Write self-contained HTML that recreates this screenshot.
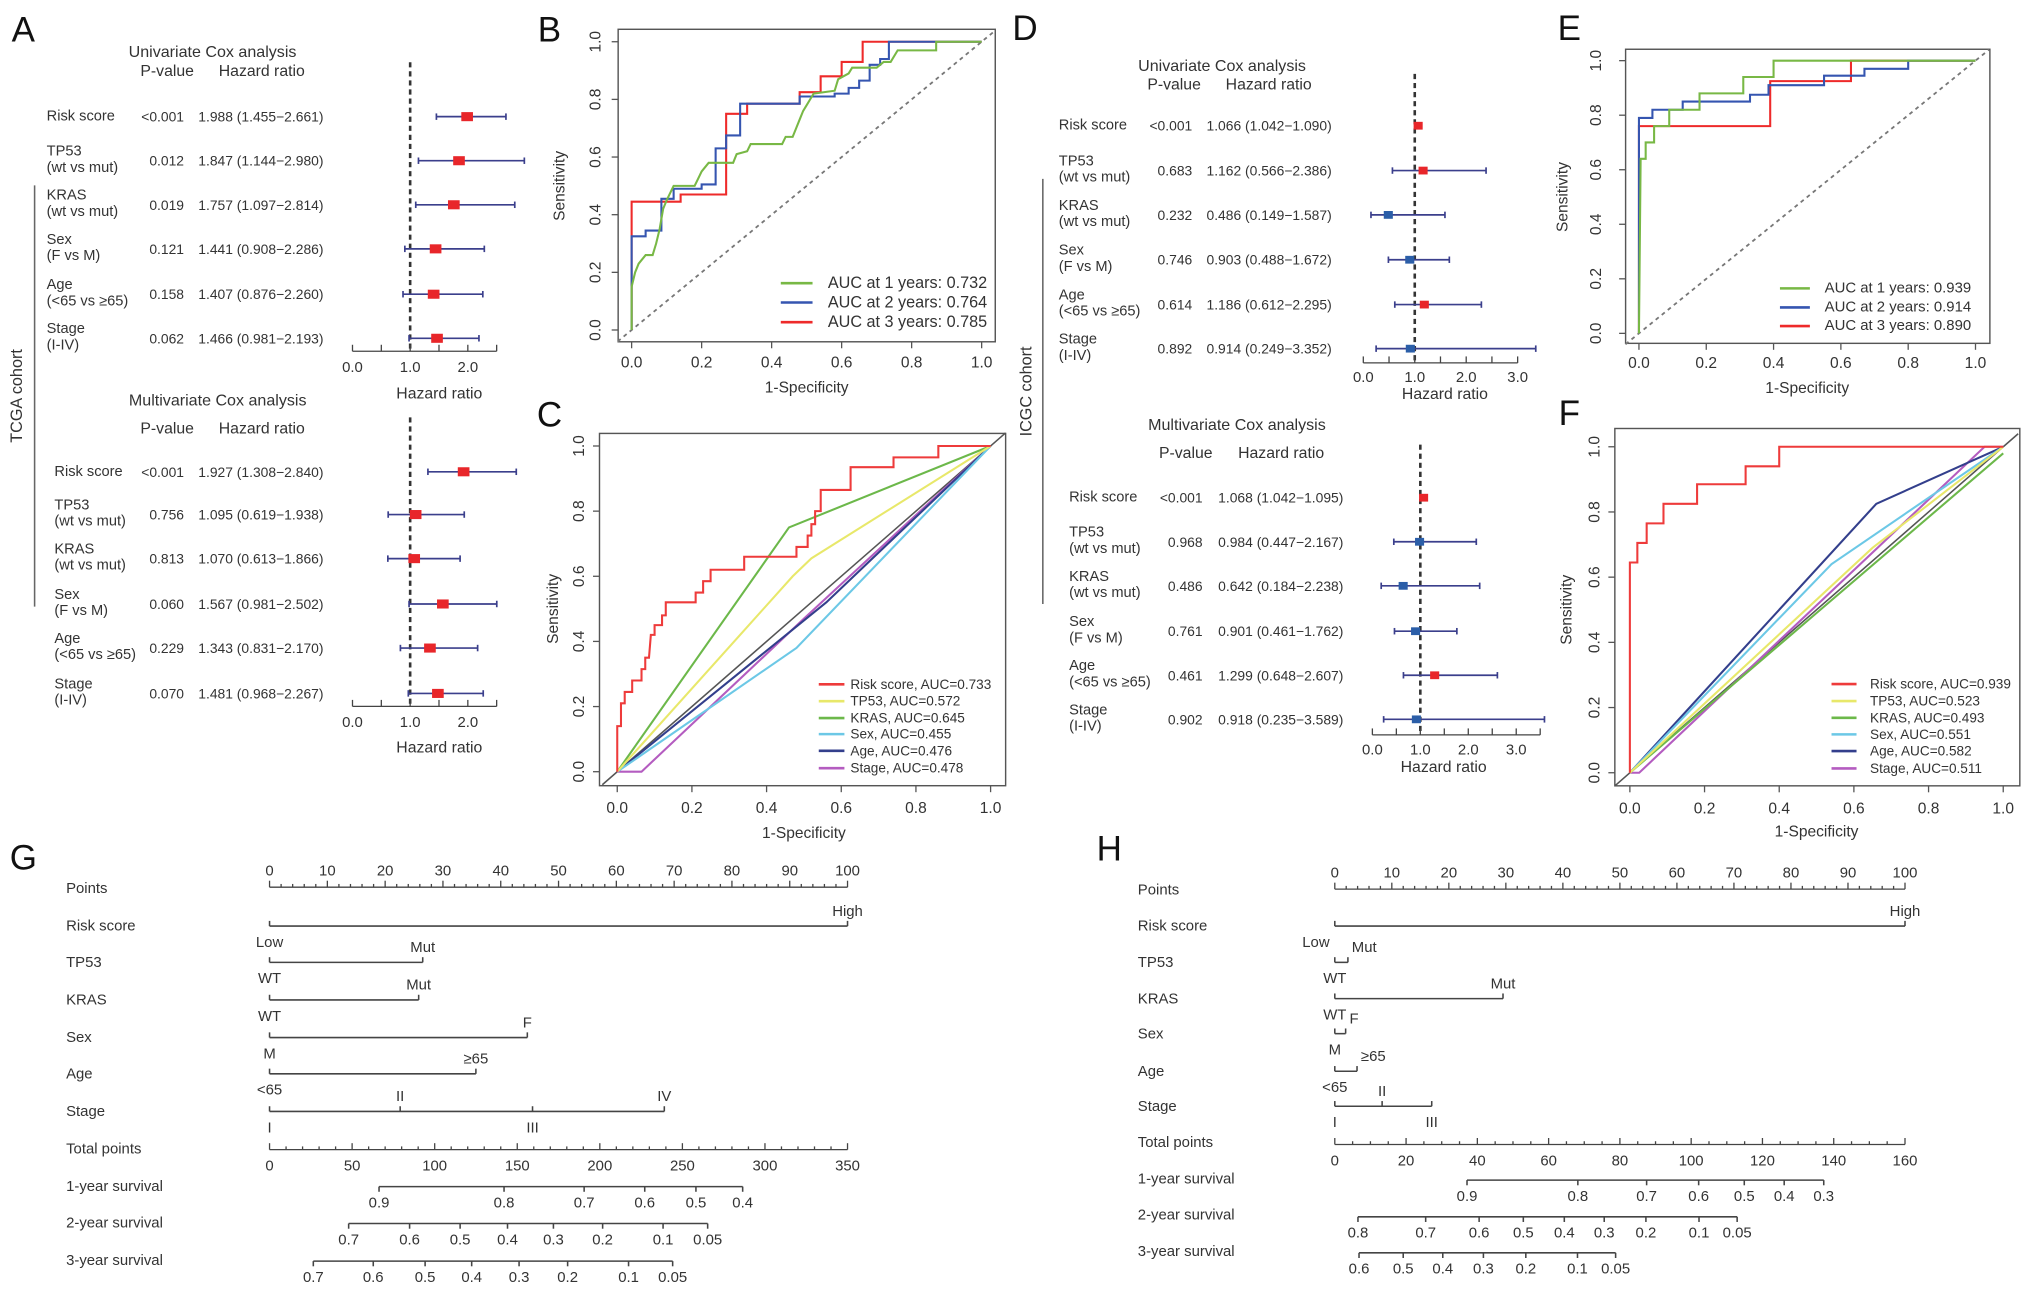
<!DOCTYPE html>
<html><head><meta charset="utf-8">
<style>
html,body{margin:0;padding:0;background:#fff;}
svg{display:block;font-family:"Liberation Sans",Arial,sans-serif;}
text{fill:#333;}
</style></head>
<body>
<svg id="fig" width="2032" height="1300" viewBox="0 0 1568 1003" preserveAspectRatio="none" xmlns="http://www.w3.org/2000/svg"></svg>
<script>
// ===== Forest plot data =====
const forestVars = ['Risk score','TP53|(wt vs mut)','KRAS|(wt vs mut)','Sex|(F vs M)','Age|(<65 vs ≥65)','Stage|(I-IV)'];
const aUniP  = ['<0.001','0.012','0.019','0.121','0.158','0.062'];
const aUniHR = [1.988,1.847,1.757,1.441,1.407,1.466];
const aUniLo = [1.455,1.144,1.097,0.908,0.876,0.981];
const aUniHi = [2.661,2.980,2.814,2.286,2.260,2.193];
const aMulP  = ['<0.001','0.756','0.813','0.060','0.229','0.070'];
const aMulHR = [1.927,1.095,1.070,1.567,1.343,1.481];
const aMulLo = [1.308,0.619,0.613,0.981,0.831,0.968];
const aMulHi = [2.840,1.938,1.866,2.502,2.170,2.267];
const dUniP  = ['<0.001','0.683','0.232','0.746','0.614','0.892'];
const dUniHR = [1.066,1.162,0.486,0.903,1.186,0.914];
const dUniLo = [1.042,0.566,0.149,0.488,0.612,0.249];
const dUniHi = [1.090,2.386,1.587,1.672,2.295,3.352];
const dMulP  = ['<0.001','0.968','0.486','0.761','0.461','0.902'];
const dMulHR = [1.068,0.984,0.642,0.901,1.299,0.918];
const dMulLo = [1.042,0.447,0.184,0.461,0.648,0.235];
const dMulHi = [1.095,2.167,2.238,1.762,2.607,3.589];

// ===== ROC data (FPR, TPR) =====
const bYears = ['AUC at 1 years: 0.732','AUC at 2 years: 0.764','AUC at 3 years: 0.785'];
const b1X=[0,0,0.01,0.02,0.04,0.06,0.07,0.08,0.09,0.1,0.12,0.18,0.19,0.2,0.22,0.29,0.3,0.33,0.34,0.43,0.44,0.46,0.47,0.48,0.49,0.5,0.51,0.52,0.58,0.59,0.62,0.63,0.7,0.72,0.74,0.76,0.87,0.87,1];
const b1Y=[0,0.15,0.2,0.23,0.26,0.26,0.3,0.35,0.42,0.45,0.5,0.5,0.525,0.55,0.58,0.58,0.61,0.62,0.645,0.645,0.67,0.67,0.7,0.73,0.76,0.78,0.8,0.82,0.83,0.87,0.89,0.91,0.91,0.93,0.93,0.97,0.97,1,1];
const b2X=[0,0,0.04,0.04,0.085,0.085,0.12,0.12,0.2,0.2,0.24,0.24,0.27,0.27,0.31,0.31,0.48,0.48,0.58,0.58,0.62,0.62,0.65,0.65,0.68,0.68,0.71,0.71,0.735,0.735,1];
const b2Y=[0,0.325,0.325,0.345,0.345,0.455,0.455,0.49,0.49,0.505,0.505,0.63,0.63,0.675,0.675,0.785,0.785,0.81,0.81,0.82,0.82,0.84,0.84,0.865,0.865,0.92,0.92,0.94,0.94,1,1];
const b3X=[0,0,0.14,0.14,0.27,0.27,0.33,0.33,0.48,0.48,0.54,0.54,0.6,0.6,0.66,0.66,1];
const b3Y=[0,0.445,0.445,0.47,0.47,0.75,0.75,0.785,0.785,0.825,0.825,0.88,0.88,0.93,0.93,1,1];

const cNames = ['Risk score, AUC=0.733','TP53, AUC=0.572','KRAS, AUC=0.645','Sex, AUC=0.455','Age, AUC=0.476','Stage, AUC=0.478'];
const cRiskX=[0,0,0.01,0.01,0.02,0.02,0.04,0.04,0.065,0.065,0.075,0.075,0.085,0.09,0.1,0.1,0.12,0.12,0.13,0.13,0.21,0.21,0.23,0.23,0.25,0.25,0.34,0.34,0.48,0.48,0.51,0.51,0.52,0.52,0.53,0.53,0.545,0.545,0.625,0.625,0.74,0.74,0.86,0.86,1];
const cRiskY=[0,0.14,0.14,0.21,0.21,0.245,0.245,0.28,0.28,0.315,0.315,0.35,0.35,0.42,0.42,0.45,0.45,0.48,0.48,0.52,0.52,0.55,0.55,0.585,0.585,0.62,0.62,0.66,0.66,0.69,0.69,0.725,0.725,0.76,0.76,0.8,0.8,0.865,0.865,0.935,0.935,0.965,0.965,1,1];
const cTP53X=[0,0.47,0.52,1], cTP53Y=[0,0.6,0.655,1];
const cKrasX=[0,0.46,1], cKrasY=[0,0.75,1];
const cSexX=[0,0.48,1], cSexY=[0,0.38,1];
const cAgeX=[0,0.56,1], cAgeY=[0,0.52,1];
const cStageX=[0,0.065,0.5,1], cStageY=[0,0,0.47,1];

const eYears = ['AUC at 1 years: 0.939','AUC at 2 years: 0.914','AUC at 3 years: 0.890'];
const e1X=[0,0.005,0.02,0.02,0.045,0.045,0.09,0.09,0.18,0.18,0.31,0.31,0.4,0.4,1];
const e1Y=[0,0.64,0.64,0.70,0.70,0.76,0.76,0.82,0.82,0.88,0.88,0.94,0.94,1,1];
const e2X=[0,0,0.04,0.04,0.13,0.13,0.33,0.33,0.385,0.385,0.55,0.55,0.67,0.67,0.8,0.8,1];
const e2Y=[0,0.79,0.79,0.82,0.82,0.85,0.85,0.875,0.875,0.91,0.91,0.945,0.945,0.97,0.97,1,1];
const e3X=[0,0,0.39,0.39,0.63,0.63,1];
const e3Y=[0,0.76,0.76,0.925,0.925,1,1];

const fNames = ['Risk score, AUC=0.939','TP53, AUC=0.523','KRAS, AUC=0.493','Sex, AUC=0.551','Age, AUC=0.582','Stage, AUC=0.511'];
const fRiskX=[0,0,0.02,0.02,0.045,0.045,0.09,0.09,0.18,0.18,0.31,0.31,0.4,0.4,0.95,1];
const fRiskY=[0,0.645,0.645,0.705,0.705,0.765,0.765,0.825,0.825,0.885,0.885,0.94,0.94,1,1,1];
const fTP53X=[0,0.65,1], fTP53Y=[0,0.69,1];
const fKrasX=[0,0.5,1], fKrasY=[0,0.49,0.98];
const fSexX=[0,0.54,1], fSexY=[0,0.64,1];
const fAgeX=[0,0.66,1], fAgeY=[0,0.825,1];
const fStageX=[0,0.025,0.95,1], fStageY=[0,0,1,1];

const rocTicks = [0,0.2,0.4,0.6,0.8,1.0];
const rocTickLabels = ['0.0','0.2','0.4','0.6','0.8','1.0'];

// ===== Nomogram data =====
const nomoRows = ['Points','Risk score','TP53','KRAS','Sex','Age','Stage','Total points','1-year survival','2-year survival','3-year survival'];
const gLevels = [['Low','High'],['WT','Mut'],['WT','Mut'],['M','F'],['<65','≥65'],['I','II','III','IV']];
const gPoints = [[0,100],[0,26.5],[0,25.8],[0,44.6],[0,35.7],[0,22.6,45.5,68.3]];
const gSide   = [['b','a'],['b','a'],['b','a'],['b','a'],['b','a'],['b','a','b','a']];
const gTotalMax = 350;
const gTotalTicks = [0,50,100,150,200,250,300,350];
const gSurvLabels = [['0.9','0.8','0.7','0.6','0.5','0.4'],['0.7','0.6','0.5','0.4','0.3','0.2','0.1','0.05'],['0.7','0.6','0.5','0.4','0.3','0.2','0.1','0.05']];
const gSurvTotals = [[66.3,142,190.5,227.2,258.2,286.5],[47.9,84.8,115.4,144.1,171.9,201.7,238.3,265.3],[26.5,62.8,94.2,122.4,151.1,180.5,217.4,244.1]];
const hLevels = [['Low','High'],['WT','Mut'],['WT','Mut'],['M','F'],['<65','≥65'],['I','II','III']];
const hPoints = [[0,100],[0,2.3],[0,29.5],[0,1.9],[0,3.9],[0,8.3,17]];
const hSide   = [['b','a'],['b','a'],['b','a'],['b','a'],['b','a'],['b','a','b']];
const hTotalMax = 160;
const hTotalTicks = [0,20,40,60,80,100,120,140,160];
const hSurvLabels = [['0.9','0.8','0.7','0.6','0.5','0.4','0.3'],['0.8','0.7','0.6','0.5','0.4','0.3','0.2','0.1','0.05'],['0.6','0.5','0.4','0.3','0.2','0.1','0.05']];
const hSurvTotals = [[37.1,68.2,87.5,102.1,114.9,126.1,137.2],[6.5,25.5,40.5,52.9,64.4,75.6,87.3,102.2,112.9],[6.8,19.2,30.3,41.7,53.6,68.1,78.8]];
const pointTicks = [0,10,20,30,40,50,60,70,80,90,100];

// ===== helpers =====
const NS='http://www.w3.org/2000/svg';
const svg=document.getElementById('fig');
function mk(tag,attrs,parent){const e=document.createElementNS(NS,tag);for(const k in attrs)e.setAttribute(k,attrs[k]);(parent||svg).appendChild(e);return e;}
function tx(x,y,s,size,anchor,parent){const e=mk('text',{x:x,y:y,'font-size':size,'text-anchor':anchor||'start','dominant-baseline':'central'},parent);e.textContent=s;return e;}
function grp(name){const g=mk('g',{});return g;}
function ln(x1,y1,x2,y2,stroke,w,parent){return mk('line',{x1:x1,y1:y1,x2:x2,y2:y2,stroke:stroke,'stroke-width':w},parent);}

[['A',18,23],['B',424,23],['C',424,320],['D',791,22],['E',1211,22],['F',1211,319],['G',18,662],['H',856,655]].forEach(p=>{
  const t=tx(p[1],p[2],p[0],27,'middle');
  
  
  t.style.fill='#111';
});

function cohort(name,label,x,lineX,y1,y2){
  const g=grp(name);
  const l=ln(lineX,y1,lineX,y2,'#666',1.2,g);
  
  
  const t=tx(x,(y1+y2)/2,label,12.5,'middle',g);
  t.setAttribute('transform','rotate(-90 '+x+' '+(y1+y2)/2+')');
  
  
}
cohort('tcga-cohort','TCGA cohort',13,26.7,143,468);
cohort('icgc-cohort','ICGC cohort',792,804.7,138,466);

function forest(name,c,P,HR,LO,HI){
  const g=grp(name);
  const X=v=>c.x0+v*c.unit;
  const t1=tx(c.titleX,c.titleY,c.title,12.4,'middle',g);
  
  
  const h1=tx(c.headP,c.headY,'P-value',12.2,'middle',g);
  
  
  const h2=tx(c.headHR,c.headY,'Hazard ratio',12.2,'middle',g);
  
  
  const d=ln(X(1),c.dashTop,X(1),c.axisY,'#333',2,g);
  d.setAttribute('stroke-dasharray','4,3');
  
  
  forestVars.forEach((v,i)=>{
    const y=c.rows[i];
    const parts=v.split('|');
    if(parts.length===1){
      const t=tx(c.labelX,y,parts[0],11.3,'start',g);
      
      
    } else {
      const t=tx(c.labelX,y-7,parts[0],11.3,'start',g);
      
      
      const t2=tx(c.labelX,y+5.5,parts[1],11.3,'start',g);
      
      
    }
    const pt=tx(c.pX,y,P[i],10.7,'end',g);
    
    
    const ht=tx(c.hrX,y,HR[i].toFixed(3)+' ('+LO[i].toFixed(3)+'\u2212'+HI[i].toFixed(3)+')',10.7,'start',g);
    
    
    const ci=ln(X(LO[i]),y,X(HI[i]),y,'#3b3f8c',1.3,g);
    
    
    [LO[i],HI[i]].forEach(v2=>{
      const cap=ln(X(v2),y-2.5,X(v2),y+2.5,'#3b3f8c',1.3,g);
      
      
    });
    const sq=mk('rect',{x:X(HR[i])-c.sq[0]/2,y:y-c.sq[1]/2,width:c.sq[0],height:c.sq[1],fill:HR[i]>1?'#e8262a':'#2b5ea8'},g);
    
    
  });
  const ax=ln(X(0),c.axisY,X(c.axisMax),c.axisY,'#444',1,g);
  
  
  for(let v=0;v<=c.axisMax+1e-9;v+=0.5){
    const tk=ln(X(v),c.axisY,X(v),c.axisY-5,'#444',1,g);
    
    
  }
  c.labels.forEach(v=>{
    const tl=tx(X(v),c.tickY,v.toFixed(1),11.5,'middle',g);
    
    
  });
  const xt=tx(c.hrLabelX,c.hrLabelY,'Hazard ratio',12.2,'middle',g);
  
  
}
forest('tcga-univariate-forest',{x0:272,unit:44.5,axisY:271,axisMax:2.5,labels:[0,1,2],dashTop:48,rows:[90,124,158,192,227,261],labelX:36,pX:142,hrX:153,titleX:164,titleY:40,title:'Univariate Cox analysis',headP:129,headHR:202,headY:55,tickY:284,hrLabelY:304,hrLabelX:339,sq:[9,7]},aUniP,aUniHR,aUniLo,aUniHi);
forest('tcga-multivariate-forest',{x0:272,unit:44.5,axisY:545,axisMax:2.5,labels:[0,1,2],dashTop:322,rows:[364,397,431,466,500,535],labelX:42,pX:142,hrX:153,titleX:168,titleY:309,title:'Multivariate Cox analysis',headP:129,headHR:202,headY:331,tickY:558,hrLabelY:577,hrLabelX:339,sq:[9,7]},aMulP,aMulHR,aMulLo,aMulHi);
forest('icgc-univariate-forest',{x0:1052,unit:39.7,axisY:280,axisMax:3.0,labels:[0,1,2,3],dashTop:57,rows:[97,131.6,165.8,200.4,235,269],labelX:817,pX:920,hrX:931,titleX:943,titleY:51,title:'Univariate Cox analysis',headP:906,headHR:979,headY:65.6,tickY:291.6,hrLabelY:304.5,hrLabelX:1115,sq:[7,6]},dUniP,dUniHR,dUniLo,dUniHi);
forest('icgc-multivariate-forest',{x0:1059,unit:37,axisY:567,axisMax:3.5,labels:[0,1,2,3],dashTop:343,rows:[384,418,452,487,521,555],labelX:825,pX:928,hrX:940,titleX:954.5,titleY:328,title:'Multivariate Cox analysis',headP:915,headHR:988.6,headY:350,tickY:579,hrLabelY:592,hrLabelX:1114,sq:[7,6]},dMulP,dMulHR,dMulLo,dMulHi);

function roc(name,c,series){
  const g=grp(name);
  const X=v=>c.x0+v*(c.x1-c.x0);
  const Y=v=>c.y0+v*(c.y1-c.y0);
  const box=mk('rect',{x:c.box[0],y:c.box[1],width:c.box[2]-c.box[0],height:c.box[3]-c.box[1],fill:'none',stroke:'#555','stroke-width':1.1},g);
  
  
  rocTicks.forEach((v,i)=>{
    const tk=ln(X(v),c.box[3],X(v),c.box[3]+5,'#555',1,g);
    
    
    const tl=tx(X(v),c.tickY,rocTickLabels[i],12,'middle',g);
    
    
    const ty=ln(c.box[0],Y(v),c.box[0]-5,Y(v),'#555',1,g);
    
    
    const yl=tx(c.ylabX,Y(v),rocTickLabels[i],12,'middle',g);
    yl.setAttribute('transform','rotate(-90 '+c.ylabX+' '+Y(v)+')');
    
    
  });
  const xt=tx((c.x0+c.x1)/2,c.titleY,'1-Specificity',12,'middle',g);
  
  
  const ym=(c.y0+c.y1)/2;
  const yt=tx(c.sensX,ym,'Sensitivity',12,'middle',g);
  yt.setAttribute('transform','rotate(-90 '+c.sensX+' '+ym+')');
  
  
  const dg=ln(X(-0.04),Y(-0.04),X(1.04),Y(1.04),c.diagSolid?'#555':'#777',c.diagSolid?1.2:1.4,g);
  if(!c.diagSolid) dg.setAttribute('stroke-dasharray','3,3');
  
  
  series.slice().reverse().forEach(s=>{
    const pts=s.x.map((v,i)=>X(v).toFixed(2)+','+Y(s.y[i]).toFixed(2)).join(' ');
    const pl=mk('polyline',{points:pts,fill:'none',stroke:s.color,'stroke-width':1.6,'stroke-linejoin':'miter'},g);
    
    
  });
  series.forEach((s,i)=>{
    const ll=ln(c.lx1,c.ly[i],c.lx2,c.ly[i],s.color,2,g);
    
    
    const lt=tx(c.ltx,c.ly[i],s.name,c.lfs,'start',g);
    
    
  });
}
const GRN='#78b845', BLU='#3555b0', RED='#ee2a2a';
const cR='#ee3b3b', cY='#e8e86a', cG='#6cb84a', cC='#6cc8e6', cN='#333f8c', cP='#b45cc0';
roc('tcga-time-roc',{box:[477,22.6,768,263.7],x0:487.4,x1:757.5,y0:254.6,y1:32.2,tickY:280,titleY:299.5,ylabX:460,sensX:432,lx1:602.5,lx2:627,ltx:638.8,ly:[218.5,233.4,248.6],lfs:12.5,diagSolid:false},
  [{name:bYears[0],x:b1X,y:b1Y,color:GRN},{name:bYears[1],x:b2X,y:b2Y,color:BLU},{name:bYears[2],x:b3X,y:b3Y,color:RED}]);
roc('tcga-variable-roc',{box:[462.6,334.4,776,606.2],x0:476.3,x1:764.4,y0:595.4,y1:344.1,tickY:623.7,titleY:643,ylabX:447,sensX:427,lx1:631.8,lx2:651.6,ltx:656.2,ly:[528,541,554,566.4,579.3,592.7],lfs:10.5,diagSolid:true},
  [{name:cNames[0],x:cRiskX,y:cRiskY,color:cR},{name:cNames[1],x:cTP53X,y:cTP53Y,color:cY},{name:cNames[2],x:cKrasX,y:cKrasY,color:cG},{name:cNames[3],x:cSexX,y:cSexY,color:cC},{name:cNames[4],x:cAgeX,y:cAgeY,color:cN},{name:cNames[5],x:cStageX,y:cStageY,color:cP}]);
roc('icgc-time-roc',{box:[1254.4,38,1535.5,264.9],x0:1264.7,x1:1524.4,y0:257.2,y1:46.8,tickY:280.3,titleY:299.6,ylabX:1232,sensX:1206,lx1:1373.5,lx2:1396.6,ltx:1408,ly:[222.5,237.2,251.6],lfs:11.5,diagSolid:false},
  [{name:eYears[0],x:e1X,y:e1Y,color:GRN},{name:eYears[1],x:e2X,y:e2Y,color:BLU},{name:eYears[2],x:e3X,y:e3Y,color:RED}]);
roc('icgc-variable-roc',{box:[1246.1,330.6,1558.6,606.3],x0:1257.7,x1:1545.8,y0:596.2,y1:344.7,tickY:624,titleY:642,ylabX:1230.7,sensX:1209,lx1:1413.3,lx2:1432.6,ltx:1443,ly:[527.8,540.9,553.8,566.6,579.5,592.9],lfs:10.5,diagSolid:true},
  [{name:fNames[0],x:fRiskX,y:fRiskY,color:cR},{name:fNames[1],x:fTP53X,y:fTP53Y,color:cY},{name:fNames[2],x:fKrasX,y:fKrasY,color:cG},{name:fNames[3],x:fSexX,y:fSexY,color:cC},{name:fNames[4],x:fAgeX,y:fAgeY,color:cN},{name:fNames[5],x:fStageX,y:fStageY,color:cP}]);

function nomo(name,c,levels,points,side,totalMax,totalTicks,totalMinor,survLabels,survTotals){
  const g=grp(name);
  const P=v=>c.x0+v/100*(c.x100-c.x0);
  const T=v=>c.x0+v/totalMax*(c.x100-c.x0);
  const col='#444';
  nomoRows.forEach((r,i)=>{
    const t=tx(c.labelX,c.rowY[i],r,11.5,'start',g);
    
    
  });
  const pa=ln(P(0),c.pointsY,P(100),c.pointsY,col,1,g);
  
  
  for(let v=0;v<=100;v+=2){
    const tk=ln(P(v),c.pointsY,P(v),c.pointsY-(v%10===0?5:2.5),col,1,g);
    
    
  }
  pointTicks.forEach(v=>{
    const tl=tx(P(v),c.pointsY-12,String(v),11.5,'middle',g);
    
    
  });
  levels.forEach((lv,i)=>{
    const y=c.rowY[i+1]-0.5;
    const pts=points[i];
    const vl=ln(P(pts[0]),y,P(pts[pts.length-1]),y,col,1.2,g);
    
    
    const span=P(pts[pts.length-1])-P(pts[0]);
    lv.forEach((lab,j)=>{
      const tk=ln(P(pts[j]),y,P(pts[j]),y-4,col,1.2,g);
      
      
      let x=P(pts[j]), anchor='middle';
      if(span<20 && side[i][j]==='a'){x=x+3; anchor='start';}
      if(c.lowEnd && i===0 && j===0){x=x-4; anchor='end';}
      const ly=side[i][j]==='a'?y-11:y+13;
      const tl=tx(x,ly,lab,11.5,anchor,g);
      
      
    });
  });
  const ta=ln(T(0),c.totalY,T(totalMax),c.totalY,col,1,g);
  
  
  for(let v=0;v<=totalMax+1e-9;v+=totalMinor){
    const major=totalTicks.indexOf(v)>=0;
    const tk=ln(T(v),c.totalY,T(v),c.totalY-(major?5:2.5),col,1,g);
    
    
  }
  totalTicks.forEach(v=>{
    const tl=tx(T(v),c.totalY+13,String(v),11.5,'middle',g);
    
    
  });
  survTotals.forEach((arr,k)=>{
    const y=c.survY[k];
    const sa=ln(T(arr[0]),y,T(arr[arr.length-1]),y,col,1.2,g);
    
    
    arr.forEach((v,j)=>{
      const tk=ln(T(v),y,T(v),y+4,col,1.2,g);
      
      
      const tl=tx(T(v),y+13,survLabels[k][j],11.5,'middle',g);
      
      
    });
  });
}
nomo('tcga-nomogram',{x0:208,x100:654,labelX:51,rowY:[686,715,743,772,801,829,858,887,916,944,973],pointsY:684.5,totalY:887,survY:[915.5,944,973]},
  gLevels,gPoints,gSide,gTotalMax,gTotalTicks,10,gSurvLabels,gSurvTotals);
nomo('icgc-nomogram',{x0:1030,x100:1470,labelX:878,rowY:[687,715,743,771,798,827,854,882,910,938,966],pointsY:686,totalY:883,survY:[910.5,938.8,966.6],lowEnd:true},
  hLevels,hPoints,hSide,hTotalMax,hTotalTicks,5,hSurvLabels,hSurvTotals);
</script>
</body></html>
